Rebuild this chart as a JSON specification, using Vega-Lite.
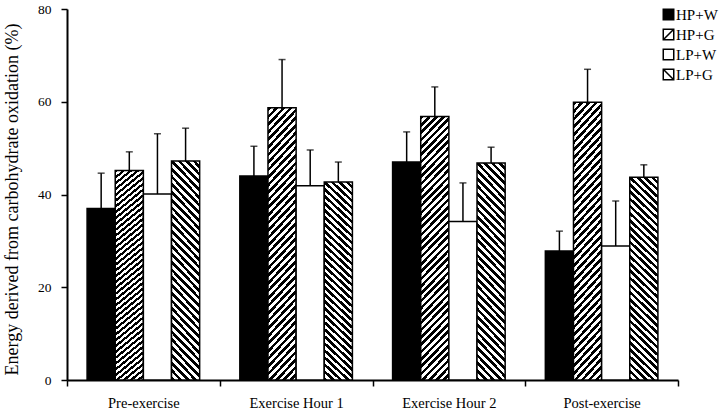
{
  "$schema": "https://vega.github.io/schema/vega-lite/v6.json",
  "width": 611,
  "height": 371,
  "autosize": "none",
  "padding": {"left": 67, "top": 9, "right": 42, "bottom": 33},
  "background": "white",
  "config": {
    "font": "Liberation Serif",
    "view": {"stroke": null},
    "axis": {"labelFont": "Liberation Serif", "titleFont": "Liberation Serif"},
    "legend": {"labelFont": "Liberation Serif", "symbolStrokeWidth": 1.5}
  },
  "data": {
    "values": [
      {"phase": "Pre-exercise", "series": "HP+W", "value": 37.0, "upper": 44.6},
      {"phase": "Pre-exercise", "series": "HP+G", "value": 45.2, "upper": 49.2},
      {"phase": "Pre-exercise", "series": "LP+W", "value": 40.1, "upper": 53.1},
      {"phase": "Pre-exercise", "series": "LP+G", "value": 47.2, "upper": 54.3},
      {"phase": "Exercise Hour 1", "series": "HP+W", "value": 44.0, "upper": 50.4},
      {"phase": "Exercise Hour 1", "series": "HP+G", "value": 58.7, "upper": 69.1},
      {"phase": "Exercise Hour 1", "series": "LP+W", "value": 41.9, "upper": 49.6},
      {"phase": "Exercise Hour 1", "series": "LP+G", "value": 42.7, "upper": 47.0},
      {"phase": "Exercise Hour 2", "series": "HP+W", "value": 47.0, "upper": 53.5},
      {"phase": "Exercise Hour 2", "series": "HP+G", "value": 56.8, "upper": 63.2},
      {"phase": "Exercise Hour 2", "series": "LP+W", "value": 34.2, "upper": 42.5},
      {"phase": "Exercise Hour 2", "series": "LP+G", "value": 46.8, "upper": 50.2},
      {"phase": "Post-exercise", "series": "HP+W", "value": 27.8, "upper": 32.1},
      {"phase": "Post-exercise", "series": "HP+G", "value": 59.9, "upper": 67.0},
      {"phase": "Post-exercise", "series": "LP+W", "value": 28.9, "upper": 38.6},
      {"phase": "Post-exercise", "series": "LP+G", "value": 43.7, "upper": 46.4}
    ]
  },
  "encoding": {
    "x": {
      "field": "phase", "type": "nominal",
      "sort": ["Pre-exercise", "Exercise Hour 1", "Exercise Hour 2", "Post-exercise"],
      "scale": {"paddingInner": 0, "paddingOuter": 0},
      "axis": {
        "title": null, "labelAngle": 0, "tickBand": "extent",
        "domainColor": "black", "domainWidth": 2, "tickColor": "black", "tickWidth": 1.5, "tickSize": 6,
        "labelFont": "Liberation Serif", "labelFontSize": 14.5, "labelColor": "black", "labelPadding": 10
      }
    },
    "xOffset": {
      "field": "series", "type": "nominal",
      "sort": ["HP+W", "HP+G", "LP+W", "LP+G"],
      "scale": {"paddingInner": 0, "paddingOuter": 0.714}
    }
  },
  "layer": [
    {
      "mark": {"type": "point", "filled": true, "strokeWidth": 1.5, "opacity": 0, "size": 10},
      "encoding": {
        "y": {
          "field": "value", "type": "quantitative",
          "scale": {"domain": [0, 80], "nice": false},
          "title": "Energy derived from carbohydrate oxidation (%)"
        },
        "shape": {
          "field": "series", "type": "nominal",
          "scale": {"domain": ["HP+W", "HP+G", "LP+W", "LP+G"], "range": ["square", "M-1,-1H1V1H-1ZM-1,1L1,-1", "square", "M-1,-1H1V1H-1ZM-1,-1L1,1"]},
          "legend": {
            "title": null, "orient": "none", "legendX": 594, "legendY": -2,
            "symbolSize": 110, "symbolStrokeWidth": 1.5, "symbolOpacity": 1,
            "labelFont": "Liberation Serif", "labelFontSize": 15, "labelColor": "black", "labelOffset": 0, "rowPadding": 3, "padding": 0
          }
        },
        "stroke": {
          "field": "series", "type": "nominal",
          "scale": {"domain": ["HP+W", "HP+G", "LP+W", "LP+G"], "range": ["black", "black", "black", "black"]},
          "legend": {
            "title": null, "orient": "none", "legendX": 594, "legendY": -2,
            "symbolSize": 110, "symbolStrokeWidth": 1.5, "symbolOpacity": 1,
            "labelFont": "Liberation Serif", "labelFontSize": 15, "labelColor": "black", "labelOffset": 0, "rowPadding": 3, "padding": 0
          }
        },
        "fill": {
          "field": "series", "type": "nominal",
          "scale": {"domain": ["HP+W", "HP+G", "LP+W", "LP+G"], "range": ["black", "white", "white", "white"]},
          "legend": {
            "title": null, "orient": "none", "legendX": 594, "legendY": -2,
            "symbolSize": 110, "symbolStrokeWidth": 1.5, "symbolOpacity": 1,
            "labelFont": "Liberation Serif", "labelFontSize": 15, "labelColor": "black", "labelOffset": 0, "rowPadding": 3, "padding": 0
          }
        }
      }
    },
    {
      "mark": {"type": "bar", "stroke": "black", "strokeWidth": 1.5},
      "encoding": {
        "y": {
          "field": "value", "type": "quantitative",
          "scale": {"domain": [0, 80], "nice": false},
          "axis": {
            "title": "Energy derived from carbohydrate oxidation (%)",
            "values": [0, 20, 40, 60, 80], "grid": false,
            "domainColor": "black", "domainWidth": 2, "tickColor": "black", "tickWidth": 1.5, "tickSize": 6,
            "labelFont": "Liberation Serif", "titleFont": "Liberation Serif",
            "labelFontSize": 13.5, "labelColor": "black", "labelPadding": 10,
            "titleFontSize": 18, "titleFontWeight": "normal", "titleColor": "black", "titlePadding": 16, "titleY": 190
          }
        },
        "fill": {
          "field": "series", "type": "nominal",
          "scale": {"domain": ["HP+W", "HP+G", "LP+W", "LP+G"], "range": ["black", "white", "white", "white"]},
          "condition": [
            {"test": "datum.series === 'HP+G'", "value": {
              "gradient": "linear", "x1": 0, "y1": 0, "x2": 0.121, "y2": 1.097,
              "stops": [
                {"offset":0,"color":"#000"},{"offset":0.0125,"color":"#000"},{"offset":0.0125,"color":"#fff"},{"offset":0.025,"color":"#fff"},
                {"offset":0.025,"color":"#000"},{"offset":0.0375,"color":"#000"},{"offset":0.0375,"color":"#fff"},{"offset":0.05,"color":"#fff"},
                {"offset":0.05,"color":"#000"},{"offset":0.0625,"color":"#000"},{"offset":0.0625,"color":"#fff"},{"offset":0.075,"color":"#fff"},
                {"offset":0.075,"color":"#000"},{"offset":0.0875,"color":"#000"},{"offset":0.0875,"color":"#fff"},{"offset":0.1,"color":"#fff"},
                {"offset":0.1,"color":"#000"},{"offset":0.1125,"color":"#000"},{"offset":0.1125,"color":"#fff"},{"offset":0.125,"color":"#fff"},
                {"offset":0.125,"color":"#000"},{"offset":0.1375,"color":"#000"},{"offset":0.1375,"color":"#fff"},{"offset":0.15,"color":"#fff"},
                {"offset":0.15,"color":"#000"},{"offset":0.1625,"color":"#000"},{"offset":0.1625,"color":"#fff"},{"offset":0.175,"color":"#fff"},
                {"offset":0.175,"color":"#000"},{"offset":0.1875,"color":"#000"},{"offset":0.1875,"color":"#fff"},{"offset":0.2,"color":"#fff"},
                {"offset":0.2,"color":"#000"},{"offset":0.2125,"color":"#000"},{"offset":0.2125,"color":"#fff"},{"offset":0.225,"color":"#fff"},
                {"offset":0.225,"color":"#000"},{"offset":0.2375,"color":"#000"},{"offset":0.2375,"color":"#fff"},{"offset":0.25,"color":"#fff"},
                {"offset":0.25,"color":"#000"},{"offset":0.2625,"color":"#000"},{"offset":0.2625,"color":"#fff"},{"offset":0.275,"color":"#fff"},
                {"offset":0.275,"color":"#000"},{"offset":0.2875,"color":"#000"},{"offset":0.2875,"color":"#fff"},{"offset":0.3,"color":"#fff"},
                {"offset":0.3,"color":"#000"},{"offset":0.3125,"color":"#000"},{"offset":0.3125,"color":"#fff"},{"offset":0.325,"color":"#fff"},
                {"offset":0.325,"color":"#000"},{"offset":0.3375,"color":"#000"},{"offset":0.3375,"color":"#fff"},{"offset":0.35,"color":"#fff"},
                {"offset":0.35,"color":"#000"},{"offset":0.3625,"color":"#000"},{"offset":0.3625,"color":"#fff"},{"offset":0.375,"color":"#fff"},
                {"offset":0.375,"color":"#000"},{"offset":0.3875,"color":"#000"},{"offset":0.3875,"color":"#fff"},{"offset":0.4,"color":"#fff"},
                {"offset":0.4,"color":"#000"},{"offset":0.4125,"color":"#000"},{"offset":0.4125,"color":"#fff"},{"offset":0.425,"color":"#fff"},
                {"offset":0.425,"color":"#000"},{"offset":0.4375,"color":"#000"},{"offset":0.4375,"color":"#fff"},{"offset":0.45,"color":"#fff"},
                {"offset":0.45,"color":"#000"},{"offset":0.4625,"color":"#000"},{"offset":0.4625,"color":"#fff"},{"offset":0.475,"color":"#fff"},
                {"offset":0.475,"color":"#000"},{"offset":0.4875,"color":"#000"},{"offset":0.4875,"color":"#fff"},{"offset":0.5,"color":"#fff"},
                {"offset":0.5,"color":"#000"},{"offset":0.5125,"color":"#000"},{"offset":0.5125,"color":"#fff"},{"offset":0.525,"color":"#fff"},
                {"offset":0.525,"color":"#000"},{"offset":0.5375,"color":"#000"},{"offset":0.5375,"color":"#fff"},{"offset":0.55,"color":"#fff"},
                {"offset":0.55,"color":"#000"},{"offset":0.5625,"color":"#000"},{"offset":0.5625,"color":"#fff"},{"offset":0.575,"color":"#fff"},
                {"offset":0.575,"color":"#000"},{"offset":0.5875,"color":"#000"},{"offset":0.5875,"color":"#fff"},{"offset":0.6,"color":"#fff"},
                {"offset":0.6,"color":"#000"},{"offset":0.6125,"color":"#000"},{"offset":0.6125,"color":"#fff"},{"offset":0.625,"color":"#fff"},
                {"offset":0.625,"color":"#000"},{"offset":0.6375,"color":"#000"},{"offset":0.6375,"color":"#fff"},{"offset":0.65,"color":"#fff"},
                {"offset":0.65,"color":"#000"},{"offset":0.6625,"color":"#000"},{"offset":0.6625,"color":"#fff"},{"offset":0.675,"color":"#fff"},
                {"offset":0.675,"color":"#000"},{"offset":0.6875,"color":"#000"},{"offset":0.6875,"color":"#fff"},{"offset":0.7,"color":"#fff"},
                {"offset":0.7,"color":"#000"},{"offset":0.7125,"color":"#000"},{"offset":0.7125,"color":"#fff"},{"offset":0.725,"color":"#fff"},
                {"offset":0.725,"color":"#000"},{"offset":0.7375,"color":"#000"},{"offset":0.7375,"color":"#fff"},{"offset":0.75,"color":"#fff"},
                {"offset":0.75,"color":"#000"},{"offset":0.7625,"color":"#000"},{"offset":0.7625,"color":"#fff"},{"offset":0.775,"color":"#fff"},
                {"offset":0.775,"color":"#000"},{"offset":0.7875,"color":"#000"},{"offset":0.7875,"color":"#fff"},{"offset":0.8,"color":"#fff"},
                {"offset":0.8,"color":"#000"},{"offset":0.8125,"color":"#000"},{"offset":0.8125,"color":"#fff"},{"offset":0.825,"color":"#fff"},
                {"offset":0.825,"color":"#000"},{"offset":0.8375,"color":"#000"},{"offset":0.8375,"color":"#fff"},{"offset":0.85,"color":"#fff"},
                {"offset":0.85,"color":"#000"},{"offset":0.8625,"color":"#000"},{"offset":0.8625,"color":"#fff"},{"offset":0.875,"color":"#fff"},
                {"offset":0.875,"color":"#000"},{"offset":0.8875,"color":"#000"},{"offset":0.8875,"color":"#fff"},{"offset":0.9,"color":"#fff"},
                {"offset":0.9,"color":"#000"},{"offset":0.9125,"color":"#000"},{"offset":0.9125,"color":"#fff"},{"offset":0.925,"color":"#fff"},
                {"offset":0.925,"color":"#000"},{"offset":0.9375,"color":"#000"},{"offset":0.9375,"color":"#fff"},{"offset":0.95,"color":"#fff"},
                {"offset":0.95,"color":"#000"},{"offset":0.9625,"color":"#000"},{"offset":0.9625,"color":"#fff"},{"offset":0.975,"color":"#fff"},
                {"offset":0.975,"color":"#000"},{"offset":0.9875,"color":"#000"},{"offset":0.9875,"color":"#fff"},{"offset":1,"color":"#fff"}
              ]
            }},
            {"test": "datum.series === 'LP+G'", "value": {
              "gradient": "linear", "x1": 0, "y1": 1, "x2": 0.149, "y2": -0.114,
              "stops": [
                {"offset":0,"color":"#000"},{"offset":0.015625,"color":"#000"},{"offset":0.015625,"color":"#fff"},{"offset":0.03125,"color":"#fff"},
                {"offset":0.03125,"color":"#000"},{"offset":0.046875,"color":"#000"},{"offset":0.046875,"color":"#fff"},{"offset":0.0625,"color":"#fff"},
                {"offset":0.0625,"color":"#000"},{"offset":0.078125,"color":"#000"},{"offset":0.078125,"color":"#fff"},{"offset":0.09375,"color":"#fff"},
                {"offset":0.09375,"color":"#000"},{"offset":0.109375,"color":"#000"},{"offset":0.109375,"color":"#fff"},{"offset":0.125,"color":"#fff"},
                {"offset":0.125,"color":"#000"},{"offset":0.140625,"color":"#000"},{"offset":0.140625,"color":"#fff"},{"offset":0.15625,"color":"#fff"},
                {"offset":0.15625,"color":"#000"},{"offset":0.171875,"color":"#000"},{"offset":0.171875,"color":"#fff"},{"offset":0.1875,"color":"#fff"},
                {"offset":0.1875,"color":"#000"},{"offset":0.203125,"color":"#000"},{"offset":0.203125,"color":"#fff"},{"offset":0.21875,"color":"#fff"},
                {"offset":0.21875,"color":"#000"},{"offset":0.234375,"color":"#000"},{"offset":0.234375,"color":"#fff"},{"offset":0.25,"color":"#fff"},
                {"offset":0.25,"color":"#000"},{"offset":0.265625,"color":"#000"},{"offset":0.265625,"color":"#fff"},{"offset":0.28125,"color":"#fff"},
                {"offset":0.28125,"color":"#000"},{"offset":0.296875,"color":"#000"},{"offset":0.296875,"color":"#fff"},{"offset":0.3125,"color":"#fff"},
                {"offset":0.3125,"color":"#000"},{"offset":0.328125,"color":"#000"},{"offset":0.328125,"color":"#fff"},{"offset":0.34375,"color":"#fff"},
                {"offset":0.34375,"color":"#000"},{"offset":0.359375,"color":"#000"},{"offset":0.359375,"color":"#fff"},{"offset":0.375,"color":"#fff"},
                {"offset":0.375,"color":"#000"},{"offset":0.390625,"color":"#000"},{"offset":0.390625,"color":"#fff"},{"offset":0.40625,"color":"#fff"},
                {"offset":0.40625,"color":"#000"},{"offset":0.421875,"color":"#000"},{"offset":0.421875,"color":"#fff"},{"offset":0.4375,"color":"#fff"},
                {"offset":0.4375,"color":"#000"},{"offset":0.453125,"color":"#000"},{"offset":0.453125,"color":"#fff"},{"offset":0.46875,"color":"#fff"},
                {"offset":0.46875,"color":"#000"},{"offset":0.484375,"color":"#000"},{"offset":0.484375,"color":"#fff"},{"offset":0.5,"color":"#fff"},
                {"offset":0.5,"color":"#000"},{"offset":0.515625,"color":"#000"},{"offset":0.515625,"color":"#fff"},{"offset":0.53125,"color":"#fff"},
                {"offset":0.53125,"color":"#000"},{"offset":0.546875,"color":"#000"},{"offset":0.546875,"color":"#fff"},{"offset":0.5625,"color":"#fff"},
                {"offset":0.5625,"color":"#000"},{"offset":0.578125,"color":"#000"},{"offset":0.578125,"color":"#fff"},{"offset":0.59375,"color":"#fff"},
                {"offset":0.59375,"color":"#000"},{"offset":0.609375,"color":"#000"},{"offset":0.609375,"color":"#fff"},{"offset":0.625,"color":"#fff"},
                {"offset":0.625,"color":"#000"},{"offset":0.640625,"color":"#000"},{"offset":0.640625,"color":"#fff"},{"offset":0.65625,"color":"#fff"},
                {"offset":0.65625,"color":"#000"},{"offset":0.671875,"color":"#000"},{"offset":0.671875,"color":"#fff"},{"offset":0.6875,"color":"#fff"},
                {"offset":0.6875,"color":"#000"},{"offset":0.703125,"color":"#000"},{"offset":0.703125,"color":"#fff"},{"offset":0.71875,"color":"#fff"},
                {"offset":0.71875,"color":"#000"},{"offset":0.734375,"color":"#000"},{"offset":0.734375,"color":"#fff"},{"offset":0.75,"color":"#fff"},
                {"offset":0.75,"color":"#000"},{"offset":0.765625,"color":"#000"},{"offset":0.765625,"color":"#fff"},{"offset":0.78125,"color":"#fff"},
                {"offset":0.78125,"color":"#000"},{"offset":0.796875,"color":"#000"},{"offset":0.796875,"color":"#fff"},{"offset":0.8125,"color":"#fff"},
                {"offset":0.8125,"color":"#000"},{"offset":0.828125,"color":"#000"},{"offset":0.828125,"color":"#fff"},{"offset":0.84375,"color":"#fff"},
                {"offset":0.84375,"color":"#000"},{"offset":0.859375,"color":"#000"},{"offset":0.859375,"color":"#fff"},{"offset":0.875,"color":"#fff"},
                {"offset":0.875,"color":"#000"},{"offset":0.890625,"color":"#000"},{"offset":0.890625,"color":"#fff"},{"offset":0.90625,"color":"#fff"},
                {"offset":0.90625,"color":"#000"},{"offset":0.921875,"color":"#000"},{"offset":0.921875,"color":"#fff"},{"offset":0.9375,"color":"#fff"},
                {"offset":0.9375,"color":"#000"},{"offset":0.953125,"color":"#000"},{"offset":0.953125,"color":"#fff"},{"offset":0.96875,"color":"#fff"},
                {"offset":0.96875,"color":"#000"},{"offset":0.984375,"color":"#000"},{"offset":0.984375,"color":"#fff"},{"offset":1,"color":"#fff"}
              ]
            }}
          ],
          "legend": {
            "title": null, "orient": "none", "legendX": 594, "legendY": -2,
            "symbolSize": 110, "symbolStrokeWidth": 1.5, "symbolOpacity": 1,
            "labelFont": "Liberation Serif", "labelFontSize": 15, "labelColor": "black", "labelOffset": 0, "rowPadding": 3, "padding": 0
          }
        }
      }
    },
    {
      "mark": {"type": "rule", "color": "black", "strokeWidth": 1.5},
      "encoding": {
        "y": {"field": "value", "type": "quantitative", "title": "Energy derived from carbohydrate oxidation (%)"},
        "y2": {"field": "upper"}
      }
    },
    {
      "mark": {"type": "tick", "orient": "horizontal", "size": 7, "thickness": 1.5, "color": "black"},
      "encoding": {
        "y": {"field": "upper", "type": "quantitative", "title": "Energy derived from carbohydrate oxidation (%)"}
      }
    }
  ]
}
